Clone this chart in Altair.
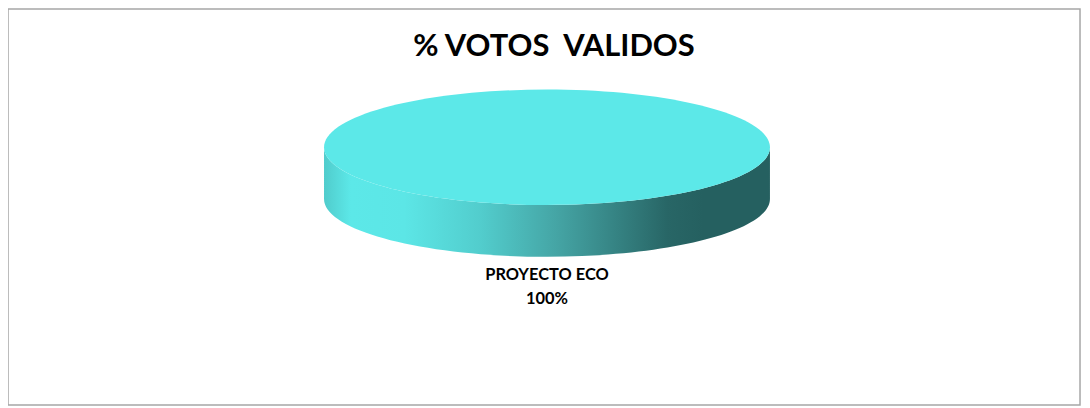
import altair as alt
import pandas as pd

categories = ["PROYECTO ECO"]
shares = [100]
chart_title = "% VOTOS \u00a0VALIDOS"

data = pd.DataFrame({"category": categories, "share": shares})

TOP = "M -224 0 A 224 58 0 1 1 224 0 A 224 58 0 1 1 -224 0 Z"
SIDE = "M -224 0 A 224 58 0 0 0 224 0 L 224 52 A 224 58 0 0 1 -224 52 Z"

side_fill = alt.LinearGradient(
    gradient="linear", x1=0, x2=1, y1=0, y2=0,
    stops=[
        alt.GradientStop(offset=0.0, color="#50cccc"),
        alt.GradientStop(offset=0.06, color="#5ce8e8"),
        alt.GradientStop(offset=0.18, color="#5ce6e6"),
        alt.GradientStop(offset=0.35, color="#52cdcd"),
        alt.GradientStop(offset=0.52, color="#45a5a5"),
        alt.GradientStop(offset=0.77, color="#286666"),
        alt.GradientStop(offset=0.85, color="#256060"),
        alt.GradientStop(offset=1.0, color="#256060"),
    ],
)

size_enc = alt.Size("share:Q", scale=alt.Scale(domain=[0, 100], range=[0, 4]), legend=None)
base = alt.Chart(data)
cx, cy = 541.5, 139

side = base.mark_point(filled=True, shape=SIDE, fill=side_fill, opacity=1, strokeWidth=0).encode(
    x=alt.value(cx), y=alt.value(cy), size=size_enc)
top = base.mark_point(filled=True, shape=TOP, fill="#5ce8e8", opacity=1, strokeWidth=0).encode(
    x=alt.value(cx), y=alt.value(cy), size=size_enc)
label = base.transform_calculate(
    label="datum.category + '\\n' + datum.share + '%'"
).mark_text(font="Lato", fontWeight="bold", fontSize=16.5, color="#000000",
            lineBreak="\n", lineHeight=24, baseline="top", align="center").encode(
    x=alt.value(cx), y=alt.value(259), text="label:N")

chart = (side + top + label).properties(
    width=1077, height=398,
    background="white",
    padding={"left": 0, "top": 0, "right": 2, "bottom": 2},
    autosize=alt.AutoSizeParams(type="none"),
    title=alt.TitleParams(chart_title, anchor="middle", font="Lato", fontWeight="bold",
                          fontSize=31, color="#000000", offset=-85, dx=10, baseline="bottom"),
).configure_view(stroke="#a6a6a6", strokeWidth=1.5, fill="white")

chart.save("out.html", embed_options={"renderer": "svg", "actions": False})
